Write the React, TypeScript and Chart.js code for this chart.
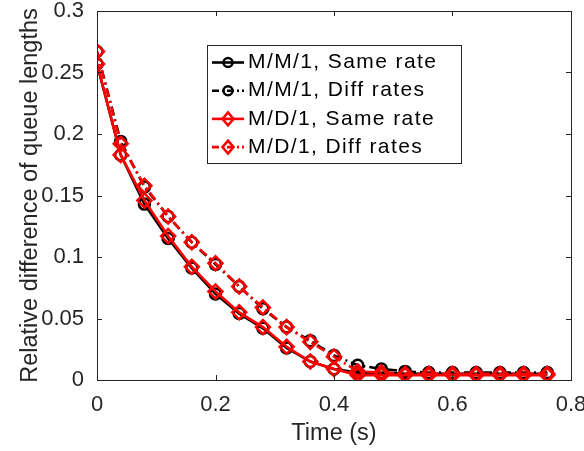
import React, { useEffect, useRef } from "react";
import { Chart, registerables } from "chart.js";

Chart.register(...registerables);

const times = [0, 0.04, 0.08, 0.12, 0.16, 0.2, 0.24, 0.28, 0.32, 0.36, 0.4, 0.44, 0.48, 0.52, 0.56, 0.6, 0.64, 0.68, 0.72, 0.76];
const mm1Same = [0.257, 0.183, 0.143, 0.115, 0.091, 0.070, 0.054, 0.042, 0.026, 0.015, 0.009, 0.006, 0.006, 0.005, 0.005, 0.005, 0.005, 0.005, 0.005, 0.005];
const mm1Diff = [0.267, 0.194, 0.157, 0.133, 0.112, 0.094, 0.076, 0.058, 0.043, 0.032, 0.020, 0.012, 0.009, 0.007, 0.006, 0.006, 0.006, 0.006, 0.006, 0.006];
const md1Same = [0.257, 0.183, 0.146, 0.117, 0.092, 0.072, 0.055, 0.043, 0.027, 0.015, 0.009, 0.004, 0.004, 0.004, 0.004, 0.004, 0.004, 0.004, 0.004, 0.004];
const md1Diff = [0.267, 0.192, 0.158, 0.133, 0.112, 0.095, 0.076, 0.059, 0.043, 0.031, 0.019, 0.007, 0.006, 0.005, 0.005, 0.005, 0.005, 0.005, 0.005, 0.005];
const xTicks = [0, 0.2, 0.4, 0.6, 0.8];
const yTicks = [0, 0.05, 0.1, 0.15, 0.2, 0.25, 0.3];
const seriesLabels = ["M/M/1, Same rate", "M/M/1, Diff rates", "M/D/1, Same rate", "M/D/1, Diff rates"];
const xTitle = "Time (s)";
const yTitle = "Relative difference of queue lengths";

const FONT = "'Liberation Sans', Arial, Helvetica, sans-serif";
const AXIS_COLOR = "#262626";
const DASH = [9, 4, 2, 4];

function pts(vals: number[]) {
  return times.map((t, i) => ({ x: t, y: vals[i] }));
}

function drawMarker(ctx: CanvasRenderingContext2D, kind: string, x: number, y: number, r: number, color: string) {
  ctx.save();
  ctx.strokeStyle = color;
  ctx.lineWidth = 2.5;
  ctx.setLineDash([]);
  ctx.beginPath();
  if (kind === "circle") {
    ctx.arc(x, y, r, 0, Math.PI * 2);
  } else {
    ctx.moveTo(x, y - r);
    ctx.lineTo(x + r * 0.85, y);
    ctx.lineTo(x, y + r);
    ctx.lineTo(x - r * 0.85, y);
    ctx.closePath();
  }
  ctx.stroke();
  ctx.restore();
}

const framePlugin = {
  id: "matlabFrame",
  afterDatasetsDraw(chart: any) {
    const { ctx, chartArea } = chart;
    const { left, right, top, bottom } = chartArea;
    const xs = chart.scales.x;
    const ys = chart.scales.y;
    ctx.save();
    ctx.strokeStyle = AXIS_COLOR;
    ctx.lineWidth = 1;
    ctx.setLineDash([]);
    ctx.strokeRect(Math.round(left) + 0.5, Math.round(top) + 0.5, Math.round(right - left), Math.round(bottom - top));
    const tl = 5;
    ctx.beginPath();
    xTicks.forEach((v) => {
      const px = Math.round(xs.getPixelForValue(v)) + 0.5;
      ctx.moveTo(px, bottom);
      ctx.lineTo(px, bottom - tl);
      ctx.moveTo(px, top);
      ctx.lineTo(px, top + tl);
    });
    yTicks.forEach((v) => {
      const py = Math.round(ys.getPixelForValue(v)) + 0.5;
      ctx.moveTo(left, py);
      ctx.lineTo(left + tl, py);
      ctx.moveTo(right, py);
      ctx.lineTo(right - tl, py);
    });
    ctx.stroke();

    // legend
    const lx = left + 110;
    const ly = top + 34;
    const lw = 254;
    const lh = 118;
    ctx.fillStyle = "#ffffff";
    ctx.fillRect(lx, ly, lw, lh);
    ctx.strokeStyle = AXIS_COLOR;
    ctx.lineWidth = 1;
    ctx.strokeRect(Math.round(lx) + 0.5, Math.round(ly) + 0.5, lw, lh);
    const styles = [
      { color: "#000000", dash: [] as number[], marker: "circle", r: 4.5 },
      { color: "#000000", dash: [7, 3, 2, 3], marker: "circle", r: 4.5 },
      { color: "#ff0000", dash: [] as number[], marker: "diamond", r: 6.5 },
      { color: "#ff0000", dash: [7, 3, 2, 3], marker: "diamond", r: 6.5 },
    ];
    ctx.font = `21px ${FONT}`;
    (ctx as any).letterSpacing = "1.4px";
    ctx.textBaseline = "middle";
    ctx.textAlign = "left";
    seriesLabels.forEach((lab, i) => {
      const st = styles[i];
      const cy = ly + 17.5 + i * 28.2;
      ctx.save();
      ctx.strokeStyle = st.color;
      ctx.lineWidth = 2.6;
      ctx.setLineDash(st.dash);
      ctx.beginPath();
      ctx.moveTo(lx + 5, cy);
      ctx.lineTo(lx + 37, cy);
      ctx.stroke();
      ctx.restore();
      drawMarker(ctx, st.marker, lx + 21, cy, st.r, st.color);
      ctx.fillStyle = "#000000";
      ctx.fillText(lab, lx + 41, cy);
    });
    (ctx as any).letterSpacing = "0px";
    ctx.restore();
  },
};

export default function App() {
  const canvasRef = useRef<HTMLCanvasElement | null>(null);

  useEffect(() => {
    const canvas = canvasRef.current;
    if (!canvas) return;
    const common = { borderWidth: 2.6, pointBorderWidth: 2.5, pointBackgroundColor: "rgba(0,0,0,0)", backgroundColor: "rgba(0,0,0,0)", fill: false, tension: 0 };
    const chart = new Chart(canvas, {
      type: "line",
      data: {
        datasets: [
          { ...common, label: seriesLabels[0], data: pts(mm1Same), borderColor: "#000000", pointBorderColor: "#000000", pointStyle: "circle", pointRadius: 5.5, order: 2 },
          { ...common, label: seriesLabels[1], data: pts(mm1Diff), borderColor: "#000000", pointBorderColor: "#000000", pointStyle: "circle", pointRadius: 5.5, borderDash: DASH, order: 2 },
          { ...common, label: seriesLabels[2], data: pts(md1Same), borderColor: "#ff0000", pointBorderColor: "#ff0000", pointStyle: "rectRot", pointRadius: 7, order: 1 },
          { ...common, label: seriesLabels[3], data: pts(md1Diff), borderColor: "#ff0000", pointBorderColor: "#ff0000", pointStyle: "rectRot", pointRadius: 7, borderDash: DASH, order: 1 },
        ],
      } as any,
      options: {
        animation: false,
        responsive: false,
        maintainAspectRatio: false,
        layout: { padding: { top: 11, right: 13, left: 0, bottom: 0 } },
        plugins: { legend: { display: false }, tooltip: { enabled: false } },
        scales: {
          x: {
            type: "linear",
            min: 0,
            max: 0.8,
            afterBuildTicks: (s: any) => { s.ticks = xTicks.map((v) => ({ value: v })); },
            afterFit: (s: any) => { s.height = 71; s.paddingLeft = 0; s.paddingRight = 0; },
            grid: { display: false, drawTicks: false },
            border: { display: false },
            ticks: { autoSkip: false, maxRotation: 0, padding: 12, color: AXIS_COLOR, font: { family: FONT, size: 22 }, callback: (v: any) => String(v) },
            title: { display: true, text: xTitle, color: AXIS_COLOR, font: { family: FONT, size: 23.5 }, padding: { top: 0, bottom: 3 } },
          },
          y: {
            type: "linear",
            min: 0,
            max: 0.3,
            afterBuildTicks: (s: any) => { s.ticks = yTicks.map((v) => ({ value: v })); },
            afterFit: (s: any) => { s.width = 97; s.paddingTop = 0; s.paddingBottom = 0; },
            grid: { display: false, drawTicks: false },
            border: { display: false },
            ticks: { autoSkip: false, padding: 13, color: AXIS_COLOR, font: { family: FONT, size: 22 }, callback: (v: any) => String(v) },
            title: { display: true, text: yTitle, color: AXIS_COLOR, font: { family: FONT, size: 23.5 }, padding: { top: 16, bottom: 0 } },
          },
        },
      } as any,
      plugins: [framePlugin],
    });
    return () => chart.destroy();
  }, []);

  return (
    <div style={{ position: "absolute", left: 0, top: 0, width: 584, height: 451, background: "#fff" }}>
      <canvas ref={canvasRef} width={584} height={451} style={{ display: "block", width: 584, height: 451 }} />
    </div>
  );
}
